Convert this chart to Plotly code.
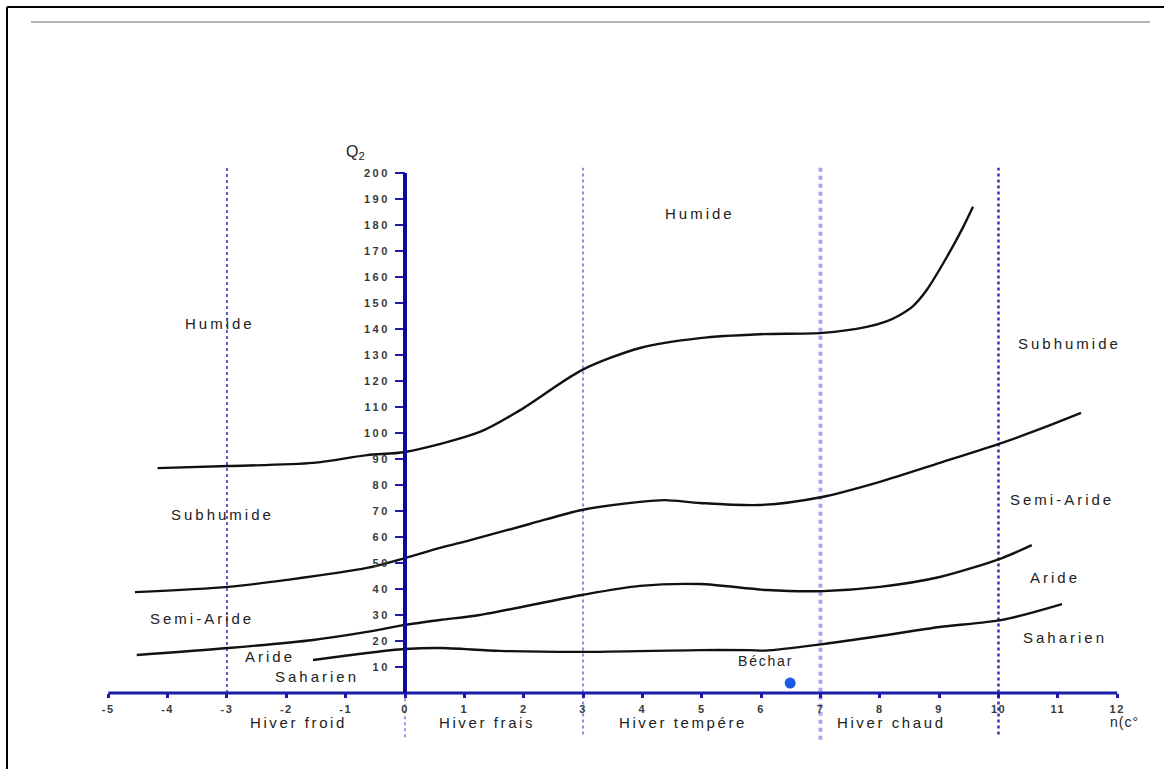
import plotly.graph_objects as go

# ---------------- data ----------------
x_ticks = [-5, -4, -3, -2, -1, 0, 1, 2, 3, 4, 5, 6, 7, 8, 9, 10, 11, 12]
x_tick_labels = [str(v) for v in x_ticks]
y_ticks = [10, 20, 30, 40, 50, 60, 70, 80, 90, 100, 110, 120, 130, 140, 150, 160, 170, 180, 190, 200]
y_tick_labels = [str(v) for v in y_ticks]

# Humide / Subhumide boundary
c1_x = [-4.17, -2.98, -1.55, -0.64, 0.0, 1.26, 1.94, 2.98, 3.96, 4.97, 5.98, 7.04, 7.78, 8.10, 8.34, 8.56, 8.79, 9.13, 9.40, 9.57]
c1_q = [86.5, 87.3, 88.5, 91.5, 92.7, 100.4, 108.8, 124.2, 132.7, 136.5, 138.0, 138.5, 140.8, 142.8, 145.4, 148.8, 155.0, 167.7, 179.0, 187.0]
# Subhumide / Semi-aride boundary
c2_x = [-4.55, -2.98, -1.99, -0.64, 0.0, 0.59, 1.10, 2.10, 2.98, 3.96, 4.38, 4.97, 5.98, 7.03, 8.00, 9.01, 10.06, 10.87, 11.39]
c2_q = [38.8, 40.8, 43.5, 48.1, 51.9, 55.8, 58.8, 65.0, 70.4, 73.5, 74.2, 73.1, 72.3, 75.4, 81.2, 88.5, 96.2, 103.0, 107.7]
# Semi-aride / Aride boundary
c3_x = [-4.52, -2.98, -1.55, -0.64, 0.0, 0.59, 1.26, 2.98, 3.96, 4.97, 6.10, 7.04, 8.00, 9.01, 10.06, 10.56]
c3_q = [14.6, 17.3, 20.4, 23.5, 26.2, 28.1, 30.0, 37.7, 41.2, 41.9, 39.6, 39.2, 40.8, 44.6, 51.9, 56.9]
# Aride / Saharien boundary
c4_x = [-1.55, -0.64, 0.0, 0.59, 1.60, 2.98, 4.97, 5.80, 6.07, 7.04, 8.00, 9.01, 10.06, 11.07]
c4_q = [12.7, 15.4, 16.9, 17.3, 16.2, 15.8, 16.5, 16.5, 16.3, 18.8, 21.9, 25.4, 28.1, 34.2]

station_name = ["Béchar"]
station_m = [6.49]
station_q = [3.8]

zone_labels = ["Humide", "Humide", "Subhumide", "Semi-Aride", "Aride", "Saharien",
               "Subhumide", "Semi-Aride", "Aride", "Saharien"]
zone_x = [-3.12, 4.97, -3.07, -3.42, -2.27, -1.48, 11.19, 11.07, 10.95, 11.12]
zone_q = [142.3, 184.6, 68.5, 28.8, 14.2, 6.5, 134.6, 74.6, 44.6, 21.5]

winter_labels = ["Hiver froid", "Hiver frais", "Hiver tempére", "Hiver chaud"]
winter_x = [-1.80, 1.38, 4.68, 8.20]
winter_limits = [-3, 3, 7, 10]

# ---------------- layout helpers ----------------
W, H = 1164, 769
X0, SX = 405.0, 59.35      # pixel of m=0, px per unit
Y0, SY = 693.0, 2.6        # pixel of Q=0, px per unit
x_range = [-X0 / SX, (W - X0) / SX]
y_range = [(Y0 - H) / SY, Y0 / SY]
x_axis_pos = (0 - y_range[0]) / (y_range[1] - y_range[0])
y_axis_pos = (0 - x_range[0]) / (x_range[1] - x_range[0])

FONT = "Liberation Sans, Arial, sans-serif"
TXT = "#222222"


def spaced(s, sp=3.0):
    return f'<span style="letter-spacing:{sp}px">{s}</span>'


fig = go.Figure()

for cx, cq in [(c1_x, c1_q), (c2_x, c2_q), (c3_x, c3_q), (c4_x, c4_q)]:
    fig.add_trace(go.Scatter(x=cx, y=cq, mode="lines",
                             line=dict(color="#111111", width=2.4, shape="spline", smoothing=0.8),
                             hoverinfo="skip", showlegend=False))

fig.add_trace(go.Scatter(x=station_m, y=station_q, mode="markers",
                         marker=dict(color="#1a5ae6", size=11, symbol="circle"),
                         showlegend=False))

shapes = []
# winter limits (dotted vertical lines)
lim_style = {-3: ("#5a5ad6", 2, 0), 3: ("#8c8ce8", 2, -16), 7: ("#a8a8ec", 4, -18), 10: ("#3434c4", 2.5, -16)}
for v in winter_limits:
    col, w, bot = lim_style[v]
    shapes.append(dict(type="line", xref="x", yref="y", x0=v, x1=v, y0=bot, y1=202,
                       line=dict(color=col, width=w, dash="dot"), layer="below"))
# dotted line below the axis at 0
shapes.append(dict(type="line", xref="x", yref="y", x0=0, x1=0, y0=-17, y1=0,
                   line=dict(color="#9a9ae8", width=2, dash="dot"), layer="below"))
# horizontal axis line
shapes.append(dict(type="line", xref="x", yref="y", x0=x_ticks[0], x1=x_ticks[-1], y0=0, y1=0,
                   line=dict(color="#1c1caa", width=3)))
# vertical Q2 axis line
shapes.append(dict(type="line", xref="x", yref="y", x0=0, x1=0, y0=0, y1=y_ticks[-1],
                   line=dict(color="#0c0c9c", width=4)))
# page frame
shapes.append(dict(type="line", xref="paper", yref="paper", x0=7 / W, x1=1, y0=1 - 7 / H, y1=1 - 7 / H,
                   line=dict(color="#000000", width=2)))
shapes.append(dict(type="line", xref="paper", yref="paper", x0=7 / W, x1=7 / W, y0=0, y1=1 - 7 / H,
                   line=dict(color="#000000", width=2)))
shapes.append(dict(type="line", xref="paper", yref="paper", x0=31 / W, x1=1150 / W, y0=1 - 22 / H, y1=1 - 22 / H,
                   line=dict(color="#b4b4b4", width=2)))

annotations = []
for t, ax_, aq in zip(zone_labels, zone_x, zone_q):
    annotations.append(dict(x=ax_, y=aq, xref="x", yref="y", text=spaced(t), showarrow=False,
                            font=dict(family=FONT, size=15, color=TXT)))
for t, ax_ in zip(winter_labels, winter_x):
    annotations.append(dict(x=ax_, y=-11.2, xref="x", yref="y", text=spaced(t, 2.6), showarrow=False,
                            font=dict(family=FONT, size=15, color=TXT)))
annotations.append(dict(x=12.13, y=-11.2, xref="x", yref="y", text=spaced("n(c°", 1), showarrow=False,
                        font=dict(family=FONT, size=14, color=TXT)))
annotations.append(dict(x=station_m[0] - 0.42, y=station_q[0] + 8.6, xref="x", yref="y",
                        text=spaced(station_name[0], 1.8), showarrow=False,
                        font=dict(family=FONT, size=14, color=TXT)))
annotations.append(dict(x=-0.83, y=208, xref="x", yref="y", text="Q<sub>2</sub>",
                        showarrow=False, font=dict(family=FONT, size=16, color=TXT)))

tick_font = dict(family=FONT, size=11, color="#3a3a3a", weight="bold")

fig.update_layout(
    width=W, height=H, autosize=False,
    margin=dict(l=0, r=0, t=0, b=0, pad=0),
    paper_bgcolor="white", plot_bgcolor="white",
    showlegend=False,
    shapes=shapes, annotations=annotations,
    xaxis=dict(range=x_range, domain=[0, 1], anchor="free", position=x_axis_pos,
               showgrid=False, zeroline=False, showline=False,
               tickmode="array", tickvals=x_ticks, ticktext=[spaced(s, 1.5) for s in x_tick_labels],
               ticks="outside", ticklen=4, tickwidth=3, tickcolor="#1c1caa",
               tickfont=tick_font, ticklabelstandoff=2, fixedrange=True),
    yaxis=dict(range=y_range, domain=[0, 1], anchor="free", position=y_axis_pos,
               showgrid=False, zeroline=False, showline=False,
               tickmode="array", tickvals=y_ticks, ticktext=[spaced(s, 2.5) for s in y_tick_labels],
               ticks="outside", ticklen=10, tickwidth=2, tickcolor="#1c1caa",
               tickfont=tick_font, ticklabelstandoff=3, fixedrange=True),
)

fig.write_html("out.html")
